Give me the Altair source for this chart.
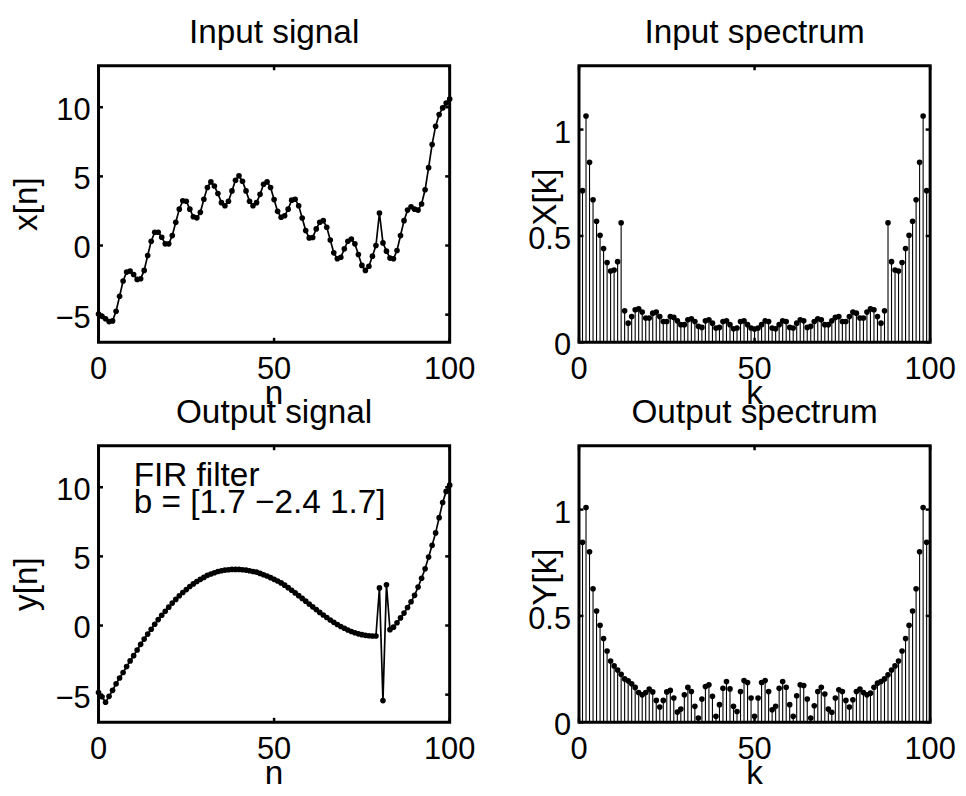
import altair as alt
import pandas as pd

# ---------------- data ----------------
n_idx = list(range(101))
k_idx = list(range(101))

x_signal = [
    -4.95, -5.12, -5.30, -5.50, -5.45, -4.75, -3.67, -2.57, -1.92, -1.85,
    -2.10, -2.45, -2.40, -1.80, -0.72, 0.31, 0.96, 0.96, 0.60, 0.12,
    0.12, 0.72, 1.68, 2.63, 3.24, 3.20, 2.63, 2.08, 2.00, 2.40,
    3.35, 4.20, 4.60, 4.30, 3.76, 3.10, 2.88, 3.20, 3.95, 4.72,
    5.04, 4.65, 3.95, 3.20, 2.88, 3.10, 3.70, 4.43, 4.60, 4.20,
    3.32, 2.47, 2.04, 2.15, 2.63, 3.28, 3.35, 2.88, 1.99, 1.08,
    0.55, 0.58, 1.20, 1.68, 1.80, 1.32, 0.40, -0.53, -0.96, -0.85,
    -0.24, 0.31, 0.47, 0.12, -0.65, -1.44, -1.80, -1.50, -0.77, 0.00,
    2.35, 0.19, -0.41, -0.91, -0.96, -0.36, 0.72, 1.80, 2.56, 2.80,
    2.63, 2.56, 3.00, 4.03, 5.63, 7.31, 8.63, 9.47, 9.95, 10.30,
    10.60,
]

y_signal = [
    -4.85, -5.15, -5.55, -5.12, -4.69, -4.21, -3.80, -3.40, -2.97, -2.56,
    -2.18, -1.77, -1.36, -0.98, -0.62, -0.27, 0.09, 0.43, 0.74, 1.03,
    1.33, 1.62, 1.89, 2.15, 2.39, 2.60, 2.82, 3.01, 3.18, 3.34,
    3.48, 3.63, 3.73, 3.82, 3.91, 3.96, 4.01, 4.03, 4.06, 4.06,
    4.06, 4.03, 4.01, 3.96, 3.91, 3.86, 3.77, 3.67, 3.58, 3.46,
    3.34, 3.22, 3.08, 2.92, 2.74, 2.55, 2.36, 2.16, 1.96, 1.76,
    1.55, 1.35, 1.15, 0.95, 0.76, 0.58, 0.40, 0.23, 0.07, -0.07,
    -0.20, -0.32, -0.43, -0.52, -0.60, -0.66, -0.71, -0.74, -0.76, -0.76,
    2.72, -5.43, 2.94, -0.30, -0.12, 0.20, 0.55, 0.90, 1.30, 1.72,
    2.18, 2.78, 3.42, 4.10, 4.95, 5.80, 6.70, 7.80, 8.90, 9.70,
    10.15,
]

X_mag = [
    1.5,
    0.713, 1.064, 0.846, 0.670, 0.569, 0.503, 0.441, 0.375, 0.335, 0.340,
    0.379, 0.562, 0.148, 0.090, 0.121, 0.153, 0.157, 0.142, 0.114, 0.114,
    0.137, 0.142, 0.121, 0.098, 0.098, 0.121, 0.117, 0.101, 0.083, 0.083,
    0.106, 0.111, 0.098, 0.075, 0.070, 0.101, 0.106, 0.090, 0.067, 0.070,
    0.098, 0.101, 0.083, 0.064, 0.067, 0.098, 0.101, 0.083, 0.067, 0.062,
    0.067, 0.083, 0.101, 0.098, 0.067, 0.064, 0.083, 0.101, 0.098, 0.070,
    0.067, 0.090, 0.106, 0.101, 0.070, 0.075, 0.098, 0.111, 0.106, 0.083,
    0.083, 0.101, 0.117, 0.121, 0.098, 0.098, 0.121, 0.142, 0.137, 0.114,
    0.114, 0.142, 0.157, 0.153, 0.121, 0.090, 0.148, 0.562, 0.379, 0.340,
    0.335, 0.375, 0.441, 0.503, 0.569, 0.670, 0.846, 1.064, 0.713,
    1.5,
]

Y_mag = [
    1.45,
    0.846, 1.009, 0.802, 0.628, 0.523, 0.456, 0.394, 0.335, 0.288, 0.265,
    0.246, 0.226, 0.204, 0.195, 0.181, 0.164, 0.140, 0.129, 0.140, 0.156,
    0.143, 0.103, 0.072, 0.103, 0.143, 0.150, 0.114, 0.048, 0.062, 0.129,
    0.164, 0.145, 0.075, 0.020, 0.109, 0.168, 0.176, 0.122, 0.028, 0.083,
    0.160, 0.192, 0.157, 0.075, 0.051, 0.145, 0.196, 0.187, 0.114, 0.028,
    0.114, 0.187, 0.196, 0.145, 0.059, 0.075, 0.160, 0.192, 0.165, 0.083,
    0.028, 0.125, 0.176, 0.173, 0.109, 0.020, 0.078, 0.145, 0.165, 0.133,
    0.062, 0.047, 0.114, 0.153, 0.145, 0.103, 0.072, 0.106, 0.145, 0.156,
    0.140, 0.129, 0.137, 0.165, 0.184, 0.192, 0.204, 0.223, 0.246, 0.265,
    0.288, 0.335, 0.394, 0.456, 0.523, 0.628, 0.802, 1.009, 0.846,
    1.45,
]

x_ticks = [0, 50, 100]
x_tick_labels = ["0", "50", "100"]
sig_y_ticks = [-5, 0, 5, 10]
sig_y_tick_labels = ["\u22125", "0", "5", "10"]
spec_y_ticks = [0, 0.5, 1]
spec_y_tick_labels = ["0", "0.5", "1"]
titles = ["Input signal", "Input spectrum", "Output signal", "Output spectrum"]
xlabels = ["n", "k", "n", "k"]
ylabels = ["x[n]", "X[k]", "y[n]", "Y[k]"]
note_x = [10, 10]
note_y = [10.06, 8.14]
note_lines = ["FIR filter", "b = [1.7 \u22122.4 1.7]"]

# ---------------- styling ----------------
W, H = 353, 278
FONT = "Liberation Sans"
FS_TICK = 31
FS_TEXT = 33.5
TICK = 4.5


def frame_layers(ylist, ylabs, xs, ys):
    tx = alt.Chart(pd.DataFrame({"t": x_ticks, "lab": x_tick_labels}))
    ty = alt.Chart(pd.DataFrame({"t": ylist, "lab": ylabs}))
    rk = dict(color="black", strokeWidth=2.5)
    xe = alt.X("t:Q", scale=xs, axis=None)
    ye = alt.Y("t:Q", scale=ys, axis=None)
    tk = dict(font=FONT, fontSize=FS_TICK, color="black")
    return [
        tx.mark_rule(**rk).encode(x=xe, y=alt.value(H - TICK), y2=alt.value(H)),
        tx.mark_rule(**rk).encode(x=xe, y=alt.value(0), y2=alt.value(TICK)),
        ty.mark_rule(**rk).encode(y=ye, x=alt.value(0), x2=alt.value(TICK)),
        ty.mark_rule(**rk).encode(y=ye, x=alt.value(W - TICK), x2=alt.value(W)),
        # tick labels
        tx.mark_text(align="center", baseline="top", **tk).encode(
            x=xe, y=alt.value(H + 13), text="lab:N"),
        ty.mark_text(align="right", baseline="alphabetic", dy=13, **tk).encode(
            y=ye, x=alt.value(-8), text="lab:N"),
    ]


def label_layers(i, ylab_x, ylab_dy):
    d = alt.Chart(pd.DataFrame({"title": [titles[i]], "xlab": [xlabels[i]],
                                "ylab": [ylabels[i]]}))
    tk = dict(font=FONT, fontSize=FS_TEXT, color="black", align="center")
    return [
        d.mark_text(baseline="alphabetic", **tk).encode(
            x=alt.value(W / 2), y=alt.value(-23), text="title:N"),
        d.mark_text(baseline="alphabetic", **tk).encode(
            x=alt.value(W / 2), y=alt.value(H + 62), text="xlab:N"),
        d.mark_text(baseline="middle", angle=270, **tk).encode(
            x=alt.value(ylab_x), y=alt.value(H / 2 + ylab_dy), text="ylab:N"),
    ]


def anchor_layers(xs, ys):
    # invisible corner mark that fixes the page position of the panel grid
    return [alt.Chart(pd.DataFrame({"a": [0]})).mark_rule(opacity=0, strokeWidth=1).encode(
        x=alt.value(-89.2), x2=alt.value(-89.2), y=alt.value(-54.2), y2=alt.value(-54.2))]


def note_layers(xs, ys):
    d = alt.Chart(pd.DataFrame({"nx": note_x, "ny": note_y, "txt": note_lines}))
    return [d.mark_text(font=FONT, fontSize=FS_TEXT, color="black", align="left",
                        baseline="alphabetic").encode(
        x=alt.X("nx:Q", scale=xs, axis=None),
        y=alt.Y("ny:Q", scale=ys, axis=None),
        text="txt:N")]


def signal_panel(vals, i, extra=None):
    xs = alt.Scale(domain=[0, 100], nice=False, zero=False)
    ys = alt.Scale(domain=[-7, 13], nice=False, zero=False)
    base = alt.Chart(pd.DataFrame({"n": n_idx, "v": vals}))
    enc = dict(x=alt.X("n:Q", scale=xs, axis=None), y=alt.Y("v:Q", scale=ys, axis=None))
    line = base.mark_line(color="black", strokeWidth=1.7).encode(**enc)
    pts = base.mark_circle(color="black", size=32, opacity=1).encode(**enc)
    layers = [line, pts] + frame_layers(sig_y_ticks, sig_y_tick_labels, xs, ys) \
        + label_layers(i, -71.5, 0)
    if extra:
        layers += extra(xs, ys)
    return alt.layer(*layers).properties(width=W, height=H)


def spectrum_panel(vals, i):
    xs = alt.Scale(domain=[0, 100], nice=False, zero=False)
    ys = alt.Scale(domain=[0, 1.3], nice=False, zero=False)
    base = alt.Chart(pd.DataFrame({"k": k_idx, "v": vals}))
    stems = base.mark_rule(color="black", strokeWidth=1.1, clip=True).encode(
        x=alt.X("k:Q", scale=xs, axis=None),
        y=alt.Y("v:Q", scale=ys, axis=None),
        y2=alt.datum(0))
    pts = base.mark_circle(color="black", size=32, opacity=1, clip=True).encode(
        x=alt.X("k:Q", scale=xs, axis=None), y=alt.Y("v:Q", scale=ys, axis=None))
    layers = [stems, pts] + frame_layers(spec_y_ticks, spec_y_tick_labels, xs, ys) \
        + label_layers(i, -33, -7)
    return alt.layer(*layers).properties(width=W, height=H)


TL = signal_panel(x_signal, 0, extra=anchor_layers)
TR = spectrum_panel(X_mag, 1)
BL = signal_panel(y_signal, 2, extra=note_layers)
BR = spectrum_panel(Y_mag, 3)

chart = alt.concat(
    TL, TR, BL, BR, columns=2,
    spacing={"row": 104, "column": 130}, bounds="flush",
).properties(padding=0, background="white").configure_view(
    stroke="black", strokeWidth=3
)

chart.save("out.html", embed_options={"renderer": "svg", "actions": False})
